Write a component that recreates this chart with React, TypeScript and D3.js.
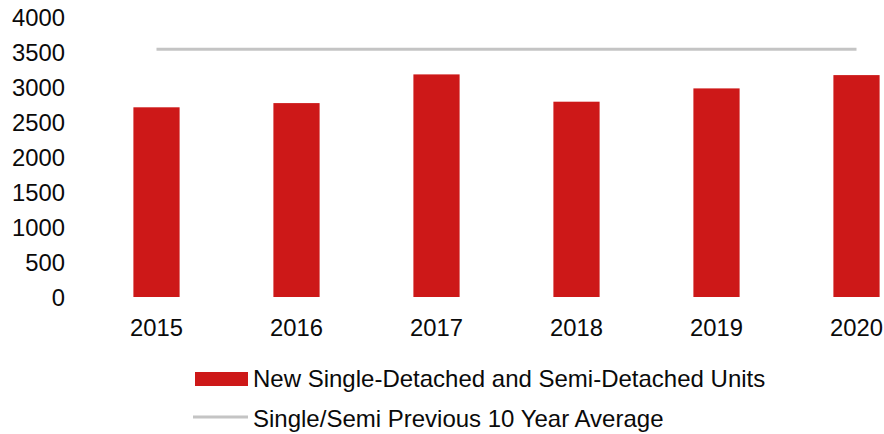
import React from "react";
import * as d3 from "d3";

const years = ["2015", "2016", "2017", "2018", "2019", "2020"];
const units = [2710, 2770, 3180, 2790, 2980, 3170];
const average = [3540, 3540, 3540, 3540, 3540, 3540];
const yTicks = [0, 500, 1000, 1500, 2000, 2500, 3000, 3500, 4000];
const seriesNames = [
  "New Single-Detached and Semi-Detached Units",
  "Single/Semi Previous 10 Year Average",
];

const W = 884;
const H = 434;
const FONT = "'Liberation Sans', Arial, Helvetica, sans-serif";
const RED = "#cd1818";
const GREY = "#c4c4c4";

export default function App() {
  const x = d3
    .scaleBand<string>()
    .domain(years)
    .range([86.5, 926.5])
    .paddingInner(0.67)
    .paddingOuter(0.335);
  const y = d3.scaleLinear().domain([0, 4000]).range([297, 17]);
  const bw = x.bandwidth();

  const line = d3
    .line<number>()
    .x((_, i) => (x(years[i]) as number) + bw / 2)
    .y((d) => y(d));

  return (
    <svg
      width={W}
      height={H}
      style={{ position: "absolute", left: 0, top: 0, background: "#fff" }}
      fontFamily={FONT}
    >
      <rect x={0} y={0} width={W} height={H} fill="#fff" />
      {yTicks.map((t) => (
        <text
          key={t}
          x={65}
          y={y(t)}
          textAnchor="end"
          dominantBaseline="central"
          fontSize={23.8}
          fill="#0a0a0a"
        >
          {t}
        </text>
      ))}
      {years.map((yr, i) => (
        <rect
          key={yr}
          x={x(yr)}
          y={y(units[i])}
          width={bw}
          height={y(0) - y(units[i])}
          fill={RED}
        />
      ))}
      <path d={line(average) || ""} fill="none" stroke={GREY} strokeWidth={3} />
      {years.map((yr) => (
        <text
          key={yr}
          x={(x(yr) as number) + bw / 2}
          y={336}
          textAnchor="middle"
          fontSize={23.8}
          fill="#0a0a0a"
        >
          {yr}
        </text>
      ))}
      <rect x={195} y={372} width={53} height={14} fill={RED} />
      <text x={253} y={387} fontSize={24} fill="#0a0a0a">
        {seriesNames[0]}
      </text>
      <line x1={193} x2={248} y1={417} y2={417} stroke={GREY} strokeWidth={3} />
      <text x={253} y={427} fontSize={24} fill="#0a0a0a">
        {seriesNames[1]}
      </text>
    </svg>
  );
}
